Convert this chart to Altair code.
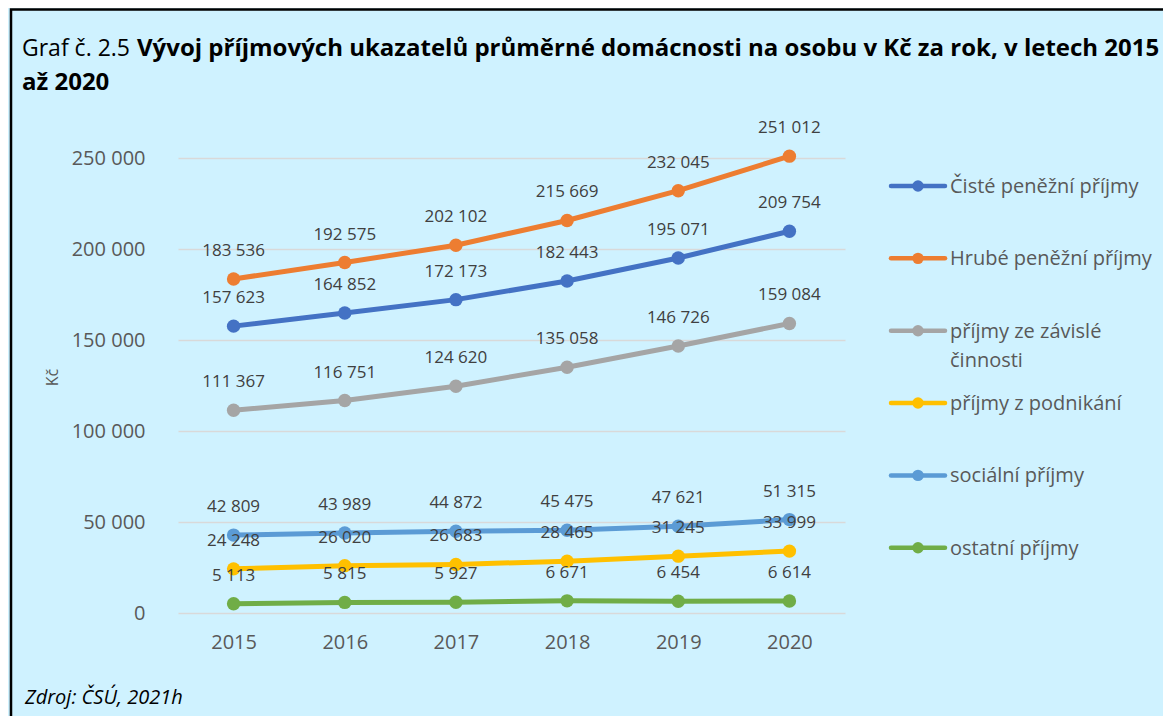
import altair as alt
import pandas as pd

years = [2015, 2016, 2017, 2018, 2019, 2020]
series_names = [
    "Čisté peněžní příjmy",
    "Hrubé peněžní příjmy",
    "příjmy ze závislé činnosti",
    "příjmy z podnikání",
    "sociální příjmy",
    "ostatní příjmy",
]
legend_labels = [
    "Čisté peněžní příjmy",
    "Hrubé peněžní příjmy",
    "příjmy ze závislé\nčinnosti",
    "příjmy z podnikání",
    "sociální příjmy",
    "ostatní příjmy",
]
colors = ["#4472C4", "#ED7D31", "#A5A5A5", "#FFC000", "#5B9BD5", "#70AD47"]

ciste = [157623, 164852, 172173, 182443, 195071, 209754]
hrube = [183536, 192575, 202102, 215669, 232045, 251012]
zavisle = [111367, 116751, 124620, 135058, 146726, 159084]
podnikani = [24248, 26020, 26683, 28465, 31245, 33999]
socialni = [42809, 43989, 44872, 45475, 47621, 51315]
ostatni = [5113, 5815, 5927, 6671, 6454, 6614]
y_ticks = [0, 50000, 100000, 150000, 200000, 250000]

values = [ciste, hrube, zavisle, podnikani, socialni, ostatni]
rows = []
for si, (name, vals) in enumerate(zip(series_names, values)):
    for yr, v in zip(years, vals):
        rows.append({"year": str(yr), "series": name, "order": si, "value": v,
                     "label": f"{v:,}".replace(",", " ")})
df = pd.DataFrame(rows)

leg = pd.DataFrame({"series": series_names, "label": legend_labels,
                    "idx": list(range(len(series_names)))})

FONT = "Open Sans"
W, H = 667, 455
PL, PT = 170, 150
TOTAL_W, TOTAL_H = 1155, 708

color = alt.Color("series:N", scale=alt.Scale(domain=series_names, range=colors), legend=None)
x_enc = alt.X("year:O", scale=alt.Scale(type="point", padding=0.5),
              axis=alt.Axis(title=None, labelAngle=0, labelFontSize=20, labelColor="#595959",
                            labelFont=FONT, labelPadding=19, ticks=False, domain=False))
y_enc = alt.Y("value:Q", scale=alt.Scale(domain=[0, 250000], nice=False),
              axis=alt.Axis(values=y_ticks, title="Kč", titleFont=FONT, titleFontSize=16,
                            titleFontWeight="normal", titleColor="#595959",
                            titleX=-126, titleY=219, titleAlign="center", titleBaseline="middle",
                            labelFontSize=20, labelColor="#595959", labelFont=FONT,
                            labelPadding=33, ticks=False, domain=False,
                            gridColor="#D9D9D9", gridWidth=1.5,
                            labelExpr="replace(format(datum.value, ','), ',', ' ')"))

base = alt.Chart(df)
lines = base.mark_line(strokeWidth=5).encode(x=x_enc, y=y_enc, color=color,
                                             detail="series:N", order="year:O")
points = base.mark_point(filled=True, size=180, opacity=1).encode(x=x_enc, y=y_enc, color=color)
labels = base.mark_text(fontSize=17, font=FONT, color="#404040", dy=-28, baseline="middle").encode(
    x=x_enc, y=y_enc, text="label:N")

one = pd.DataFrame({"k": [0]})
border = alt.Chart(one).mark_rect(fill="transparent", stroke="#000000", strokeWidth=2.5).encode(
    x=alt.value(-PL + 3), x2=alt.value(TOTAL_W), y=alt.value(-PT + 1.5), y2=alt.value(TOTAL_H))

title_df = pd.DataFrame({"t": ["Graf č. 2.5"]})
t1 = alt.Chart(title_df).mark_text(align="left", baseline="alphabetic", fontSize=23, font=FONT,
                                   color="#000000").encode(
    x=alt.value(-156), y=alt.value(-102), text="t:N")
tb_df = pd.DataFrame({"t": ["Vývoj příjmových ukazatelů průměrné domácnosti na osobu v Kč za rok, v letech 2015"]})
t2 = alt.Chart(tb_df).mark_text(align="left", baseline="alphabetic", fontSize=24, font=FONT,
                                fontWeight="bold", color="#000000").encode(
    x=alt.value(-41), y=alt.value(-102), text="t:N")
tc_df = pd.DataFrame({"t": ["až 2020"]})
t3 = alt.Chart(tc_df).mark_text(align="left", baseline="alphabetic", fontSize=24, font=FONT,
                                fontWeight="bold", color="#000000").encode(
    x=alt.value(-156), y=alt.value(-68), text="t:N")
src_df = pd.DataFrame({"t": ["Zdroj: ČSÚ, 2021h"]})
src = alt.Chart(src_df).mark_text(align="left", baseline="alphabetic", fontSize=20, font=FONT,
                                  fontStyle="italic", color="#000000").encode(
    x=alt.value(-153), y=alt.value(546), text="t:N")

legbase = alt.Chart(leg).transform_calculate(py="28 + datum.idx * 72.35")
leg_rule = legbase.mark_rule(strokeWidth=4.5, strokeCap="round").encode(
    x=alt.value(713), x2=alt.value(767), y=alt.Y("py:Q", scale=None), color=color)
leg_pt = legbase.mark_point(filled=True, size=130, opacity=1).encode(
    x=alt.value(740), y=alt.Y("py:Q", scale=None), color=color)
leg_txt = legbase.mark_text(align="left", baseline="alphabetic", dy=7, fontSize=20, font=FONT,
                            color="#595959", lineBreak="\n", lineHeight=29).encode(
    x=alt.value(772), y=alt.Y("py:Q", scale=None), text="label:N")

chart = alt.layer(border, lines, points, labels, leg_rule, leg_pt, leg_txt, t1, t2, t3, src).properties(
    width=W, height=H,
    autosize=alt.AutoSizeParams(type="none"),
    padding={"left": PL, "top": PT, "right": TOTAL_W - PL - W, "bottom": TOTAL_H - PT - H},
    background="#CFF2FF",
).configure_view(stroke=None)

chart.save("out.html", embed_options={"renderer": "svg", "actions": False})
